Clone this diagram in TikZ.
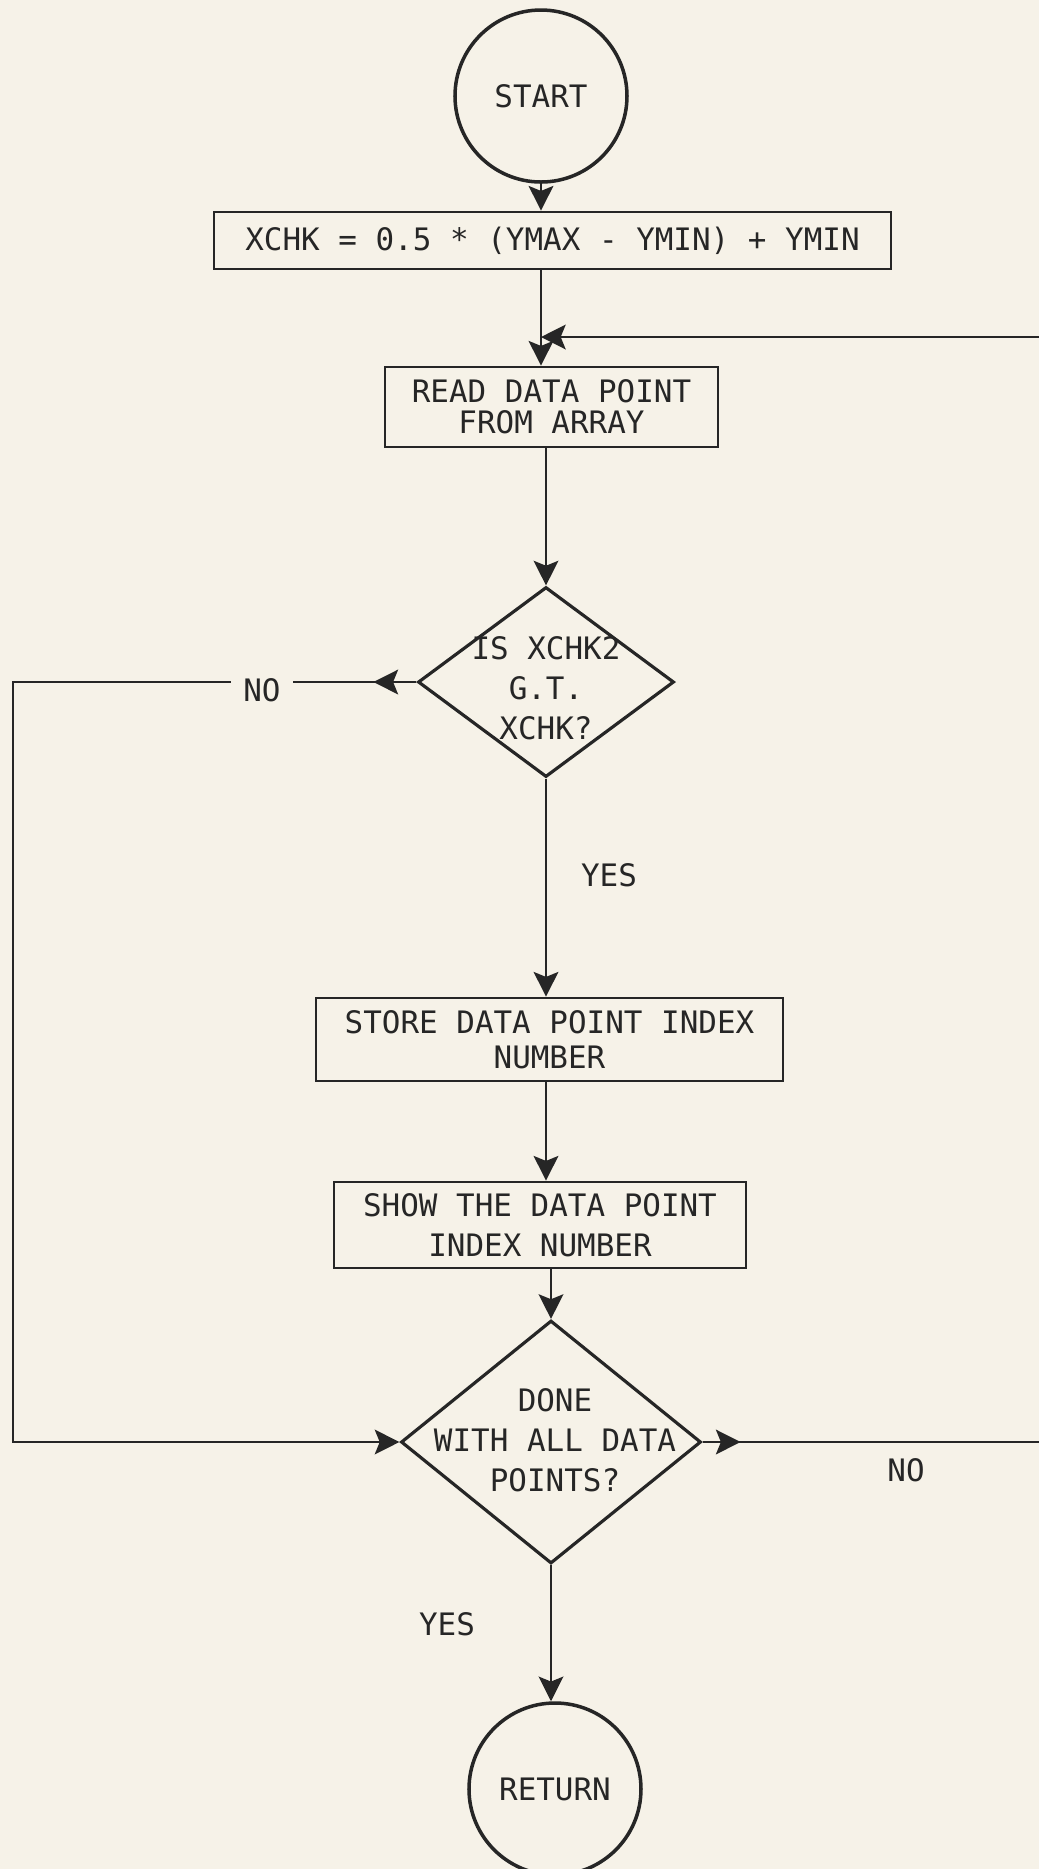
\documentclass[tikz,border=0pt]{standalone}
\usepackage{fontspec}
\setmonofont{DejaVu Sans Mono}
\usepackage{tikz}
\usetikzlibrary{arrows.meta,shapes.geometric}
\definecolor{paper}{RGB}{246,242,232}
\definecolor{ink}{RGB}{38,38,38}

\begin{document}
\begin{tikzpicture}[
font=\ttfamily\fontsize{8.8}{11.4}\selectfont,
every node/.style={text=ink},
flow/.style={-{Stealth[length=7pt,width=7pt,inset=1.4pt]},draw=ink,line width=0.8pt},
wire/.style={draw=ink,line width=0.8pt},
terminal/.style={circle,draw=ink,line width=1pt,minimum size=1.72cm,inner sep=0pt},
process/.style={rectangle,draw=ink,line width=0.8pt,inner sep=0pt,align=center},
decision/.style={diamond,draw=ink,line width=0.9pt,inner sep=0pt},
scale=1]
    % Paper
    \fill[paper] (0,0) rectangle (10.39,-18.69);
    \useasboundingbox (0,0) rectangle (10.39,-18.69);

    % Boxes
    \node[terminal] (start) at (5.41,-0.96) {START};
    \node[process,minimum width=6.77cm,minimum height=0.57cm] (xchk) at (5.525,-2.405)
        {XCHK = 0.5 * (YMAX - YMIN) + YMIN};
    \node[process,minimum width=3.33cm,minimum height=0.80cm] (read) at (5.515,-4.07)
        {READ DATA POINT\\[-2.6pt]FROM ARRAY};
    \node[decision,minimum width=2.56cm,minimum height=1.90cm] (d1) at (5.46,-6.82) {};
    \node[align=center] (d1t) at (5.46,-6.88) {IS XCHK2\\G.T.\\XCHK?};
    \node[process,minimum width=4.67cm,minimum height=0.83cm] (store) at (5.495,-10.395)
        {STORE DATA POINT INDEX\\[-1.4pt]NUMBER};
    \node[process,minimum width=4.12cm,minimum height=0.86cm] (show) at (5.40,-12.25)
        {SHOW THE DATA POINT\\INDEX NUMBER};
    \node[decision,minimum width=3.00cm,minimum height=2.43cm] (d2) at (5.51,-14.42) {};
    \node[align=center] (d2t) at (5.55,-14.40) {DONE\\WITH ALL DATA\\POINTS?};
    \node[terminal] (ret) at (5.55,-17.89) {RETURN};

    % Labels
    \node (no1) at (2.62,-6.90) {NO};
    \node (yes1) at (6.09,-8.75) {YES};
    \node (no2) at (9.06,-14.70) {NO};
    \node (yes2) at (4.47,-16.24) {YES};

    \coordinate (join) at (5.41,-3.37);
    \coordinate (lft) at (0.13,0);
    \coordinate (rgt) at (10.55,0);

    % Connectors
    \draw[flow] (start.south) -- (start |- xchk.north);
    \draw[flow] (start |- xchk.south) -- (start |- read.north);
    \draw[flow] (d1.north |- read.south) -- (d1.north);
    \draw[wire] (d1.west) -- (no1.east |- d1.west);
    \draw[flow] (d1.west) -- ([xshift=-0.43cm]d1.west);
    \draw[flow] (no1.west |- d1.west) -| (lft |- d2.west) -- (d2.west);
    \draw[flow] (d1.south) -- (d1.south |- store.north);
    \draw[flow] (d1.south |- store.south) -- (d1.south |- show.north);
    \draw[flow] (d2.north |- show.south) -- (d2.north);
    \draw[flow] (d2.east) -- (rgt |- d2.east) |- (join);
    \draw[flow] (d2.east) -- ([xshift=0.38cm]d2.east);
    \draw[flow] (d2.south) -- (d2.south |- ret.north);

\end{tikzpicture}
\end{document}
